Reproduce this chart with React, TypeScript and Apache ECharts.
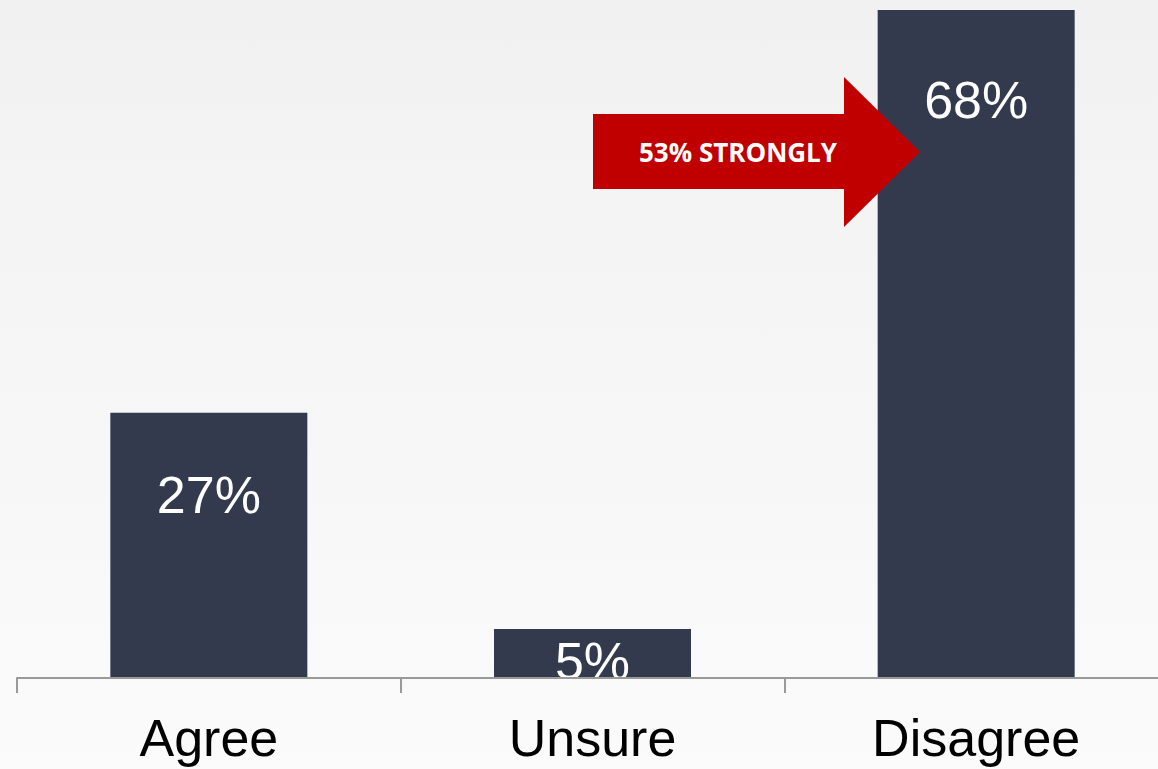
import React, { useEffect, useRef } from "react";
import * as echarts from "echarts";

const categories = ["Agree", "Unsure", "Disagree"];
const values = [27, 5, 68];
const valueLabels = ["27%", "5%", "68%"];
const calloutText = "53% STRONGLY";

export default function App() {
  const ref = useRef<HTMLDivElement>(null);
  useEffect(() => {
    if (!ref.current) return;
    const chart = echarts.init(ref.current, undefined, { renderer: "svg" });
    const labelOffsets = [82, 32, 90];
    const data = values.map((v, i) => ({
      value: v,
      label: {
        show: true,
        position: ["50%", labelOffsets[i]],
        align: "center",
        verticalAlign: "middle",
        formatter: () => valueLabels[i],
      },
    }));
    chart.setOption({
      animation: false,
      backgroundColor: new echarts.graphic.LinearGradient(0, 0, 0, 1, [
        { offset: 0, color: "#f1f1f1" },
        { offset: 1, color: "#fbfbfb" },
      ]),
      grid: { left: 17, right: 0, top: 10, bottom: 91, containLabel: false },
      xAxis: {
        type: "category",
        data: categories,
        z: 10,
        axisLine: { lineStyle: { color: "#999999", width: 2 } },
        axisTick: { show: true, length: 15, lineStyle: { color: "#999999", width: 2 } },
        axisLabel: {
          color: "#000000",
          fontSize: 52,
          fontFamily: "Liberation Sans, Arial, sans-serif",
          margin: 34,
        },
      },
      yAxis: { type: "value", min: 0, max: 68, show: false, splitLine: { show: false } },
      series: [
        {
          type: "bar",
          data,
          barWidth: 197,
          itemStyle: { color: "#333a4d" },
          label: {
            color: "#ffffff",
            fontSize: 52,
            fontFamily: "Liberation Sans, Arial, sans-serif",
          },
        },
      ],
      graphic: [
        {
          type: "rect",
          z: 5,
          silent: true,
          shape: { x: 0, y: 679, width: 1168, height: 90 },
          style: {
            fill: new echarts.graphic.LinearGradient(0, 0, 0, 1, [
              { offset: 0, color: "#f9f9f9" },
              { offset: 1, color: "#fbfbfb" },
            ]),
          },
        },
        {
          type: "polygon",
          z: 20,
          shape: {
            points: [
              [593, 114],
              [844, 114],
              [844, 77],
              [920, 152],
              [844, 227],
              [844, 189],
              [593, 189],
            ],
          },
          style: { fill: "#c00000" },
        },
        {
          type: "text",
          z: 21,
          x: 738,
          y: 152,
          style: {
            text: calloutText,
            fill: "#ffffff",
            font: "bold 26px 'Open Sans', sans-serif",
            align: "center",
            verticalAlign: "middle",
          },
        },
      ],
    });
    return () => chart.dispose();
  }, []);
  return (
    <div
      style={{
        position: "fixed",
        left: 0,
        top: 0,
        width: 1158,
        height: 769,
        overflow: "hidden",
      }}
    >
      <div ref={ref} style={{ width: 1168, height: 769 }} />
    </div>
  );
}
